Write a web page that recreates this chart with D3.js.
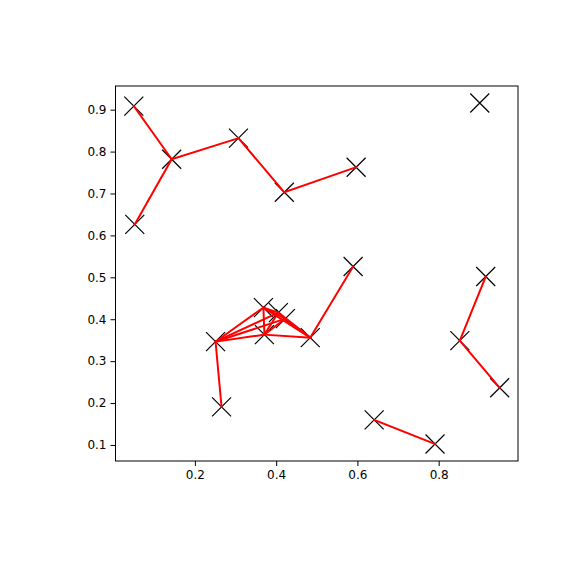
<!DOCTYPE html>
<html>
<head>
<meta charset="utf-8">
<script src="https://cdn.jsdelivr.net/npm/d3@7"></script>
<style>
  html, body { margin: 0; padding: 0; background: #fff; }
  svg { display: block; }
</style>
</head>
<body>
<div id="chart"></div>
<script>
// Node positions
const xs = [0.0496, 0.1428, 0.0520, 0.3072, 0.4201, 0.5968, 0.9011, 0.5894, 0.9158, 0.8520,
            0.9502, 0.6413, 0.7910, 0.2508, 0.2656, 0.4839, 0.3686, 0.4054, 0.4226, 0.3711];
const ys = [0.9086, 0.7818, 0.6263, 0.8320, 0.7029, 0.7627, 0.9158, 0.5258, 0.5019, 0.3488,
            0.2364, 0.1598, 0.1024, 0.3464, 0.1909, 0.3560, 0.4278, 0.4158, 0.4014, 0.3632];
// Edges as index pairs
const edgeFrom = [0, 1, 1, 3, 4, 7, 8, 9, 11, 13, 13, 13, 13, 13, 16, 16, 16, 16, 17, 18, 19, 19, 19];
const edgeTo   = [1, 2, 3, 4, 5, 15, 9, 10, 12, 14, 16, 17, 18, 19, 19, 17, 18, 15, 15, 15, 15, 17, 18];
const xTicks = [0.2, 0.4, 0.6, 0.8];
const yTicks = [0.1, 0.2, 0.3, 0.4, 0.5, 0.6, 0.7, 0.8, 0.9];

(function () {
const W = 576, H = 576;
const pL = 115.5, pR = 518, pT = 86, pB = 461;

function padded(arr) {
  const mn = d3.min(arr), mx = d3.max(arr), p = (mx - mn) * 0.05;
  return [mn - p, mx + p];
}

const x = d3.scaleLinear().domain(padded(xs)).range([pL, pR]);
const y = d3.scaleLinear().domain(padded(ys)).range([pB, pT]);

const svg = d3.select("#chart").append("svg")
  .attr("width", W).attr("height", H)
  .style("font-family", "DejaVu Sans, sans-serif");

svg.append("rect").attr("width", W).attr("height", H).attr("fill", "#fff");

const clipId = "plotclip";
svg.append("clipPath").attr("id", clipId)
  .append("rect").attr("x", pL).attr("y", pT)
  .attr("width", pR - pL).attr("height", pB - pT);

const plot = svg.append("g").attr("clip-path", `url(#${clipId})`);

// markers (x)
const nodes = xs.map((v, i) => ({ x: v, y: ys[i] }));
const r = 9.5;
const mk = plot.append("g").attr("stroke", "#000").attr("stroke-width", 1.2).attr("fill", "none");
nodes.forEach(n => {
  const cx = x(n.x), cy = y(n.y);
  mk.append("path").attr("d", `M${cx - r},${cy - r}L${cx + r},${cy + r}M${cx - r},${cy + r}L${cx + r},${cy - r}`);
});

// edges
const edges = edgeFrom.map((f, i) => [nodes[f], nodes[edgeTo[i]]]);
plot.append("g").selectAll("line").data(edges).join("line")
  .attr("x1", d => x(d[0].x)).attr("y1", d => y(d[0].y))
  .attr("x2", d => x(d[1].x)).attr("y2", d => y(d[1].y))
  .attr("stroke", "#ff0000").attr("stroke-width", 2).attr("stroke-linecap", "square");

// axes
const xAxis = d3.axisBottom(x).tickValues(xTicks).tickFormat(d3.format(".1f")).tickSizeOuter(0).tickSize(5).tickPadding(4);
const yAxis = d3.axisLeft(y).tickValues(yTicks).tickFormat(d3.format(".1f")).tickSizeOuter(0).tickSize(5).tickPadding(4);

const gx = svg.append("g").attr("transform", `translate(0,${pB})`).call(xAxis);
const gy = svg.append("g").attr("transform", `translate(${pL},0)`).call(yAxis);
[gx, gy].forEach(g => {
  g.select(".domain").remove();
  g.selectAll("line").attr("stroke", "#000").attr("stroke-width", 1);
  g.selectAll("text").attr("fill", "#000").style("font-size", "12px").style("font-family", "DejaVu Sans, sans-serif");
});

// frame
svg.append("rect").attr("x", pL).attr("y", pT)
  .attr("width", pR - pL).attr("height", pB - pT)
  .attr("fill", "none").attr("stroke", "#000").attr("stroke-width", 1);
})();
</script>
</body>
</html>
